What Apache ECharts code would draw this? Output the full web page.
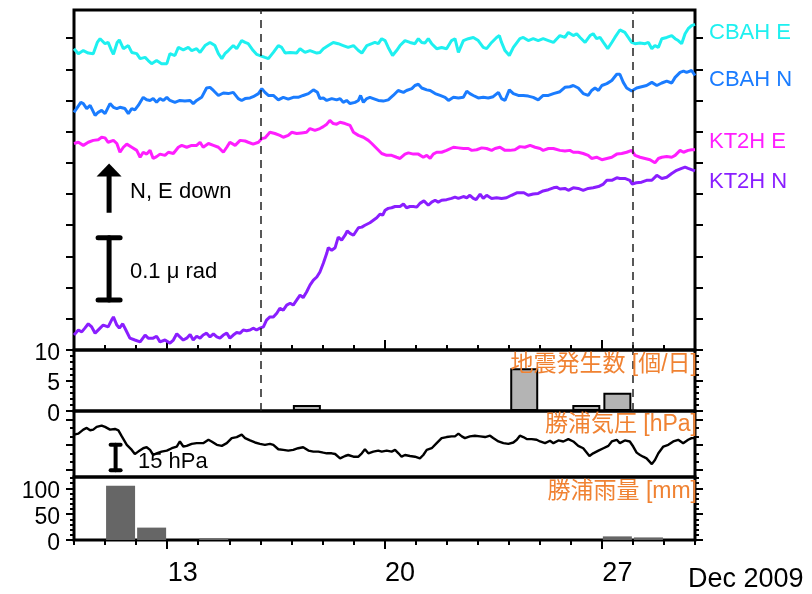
<!DOCTYPE html>
<html>
<head>
<meta charset="utf-8">
<script src="https://cdn.jsdelivr.net/npm/echarts@6/dist/echarts.min.js"></script>
<style>
  html, body { margin: 0; padding: 0; background: #fff; }
  #main { width: 812px; height: 594px; }
</style>
</head>
<body>
<div id="main"></div>
<script>
// tilt in nrad (relative, offset per trace), time in day of Dec 2009
const cbahE = [[10.00,483],[10.14,475],[10.30,480],[10.46,476],[10.62,475],[10.75,493],[10.84,499],[11.00,491],[11.10,493],[11.21,480],[11.27,474],[11.39,493],[11.46,497],[11.59,483],[11.75,488],[11.86,477],[12.02,475],[12.13,467],[12.29,469],[12.39,464],[12.50,459],[12.66,464],[12.82,459],[12.99,459],[13.09,475],[13.25,472],[13.36,485],[13.52,481],[13.68,485],[13.79,480],[13.95,483],[14.06,477],[14.22,488],[14.38,493],[14.54,488],[14.65,475],[14.76,467],[14.86,475],[14.97,480],[15.13,488],[15.24,483],[15.40,496],[15.51,493],[15.61,491],[15.77,480],[15.88,474],[15.99,472],[16.15,469],[16.26,467],[16.42,477],[16.58,488],[16.69,485],[16.80,476],[16.96,477],[17.17,476],[17.28,483],[17.44,477],[17.60,480],[17.82,476],[17.92,477],[18.03,483],[18.19,488],[18.35,493],[18.51,491],[18.67,488],[18.83,485],[19.00,488],[19.16,480],[19.27,476],[19.43,488],[19.59,491],[19.69,493],[19.80,491],[19.91,499],[20.02,496],[20.12,485],[20.26,472],[20.39,480],[20.50,488],[20.66,496],[20.82,493],[20.98,491],[21.09,499],[21.20,493],[21.30,492],[21.41,499],[21.52,491],[21.68,483],[21.84,485],[22.00,483],[22.16,496],[22.27,499],[22.38,477],[22.54,496],[22.70,499],[22.86,501],[23.02,496],[23.18,485],[23.29,483],[23.45,493],[23.61,501],[23.70,504],[23.77,493],[23.88,480],[24.02,472],[24.15,485],[24.36,499],[24.47,501],[24.63,496],[24.79,499],[24.95,496],[25.11,499],[25.28,496],[25.44,493],[25.65,504],[25.81,501],[25.92,509],[26.08,504],[26.19,507],[26.30,501],[26.46,493],[26.62,504],[26.72,507],[26.83,499],[26.94,501],[27.05,493],[27.19,483],[27.32,493],[27.42,501],[27.58,513],[27.74,509],[27.85,501],[27.96,493],[28.07,491],[28.23,492],[28.39,491],[28.50,493],[28.61,483],[28.71,488],[28.82,485],[28.93,499],[29.09,501],[29.25,504],[29.36,499],[29.46,496],[29.57,491],[29.68,507],[29.78,515],[29.89,520],[30.00,522]];
const cbahN = [[10.00,381],[10.22,397],[10.30,395],[10.41,387],[10.52,392],[10.68,376],[10.78,381],[10.89,384],[11.00,379],[11.16,395],[11.27,389],[11.38,387],[11.48,389],[11.64,387],[11.75,379],[11.86,387],[11.96,385],[12.07,392],[12.23,405],[12.34,401],[12.45,400],[12.55,403],[12.66,397],[12.77,403],[12.88,400],[12.99,405],[13.09,400],[13.25,397],[13.41,400],[13.57,399],[13.74,400],[13.84,395],[13.95,400],[14.11,405],[14.27,420],[14.38,421],[14.49,416],[14.65,408],[14.81,412],[14.97,411],[15.13,413],[15.29,403],[15.40,400],[15.51,403],[15.67,404],[15.77,406],[15.94,411],[16.05,419],[16.15,413],[16.26,408],[16.42,408],[16.58,401],[16.74,405],[16.90,402],[17.06,405],[17.22,405],[17.38,408],[17.55,411],[17.71,417],[17.84,413],[17.92,403],[18.03,404],[18.14,400],[18.30,403],[18.46,401],[18.57,403],[18.67,397],[18.78,400],[18.89,395],[19.05,397],[19.16,400],[19.23,408],[19.32,397],[19.43,403],[19.53,405],[19.64,403],[19.80,400],[19.96,399],[20.12,401],[20.28,408],[20.44,416],[20.61,413],[20.71,416],[20.88,419],[20.98,424],[21.09,426],[21.20,420],[21.36,417],[21.47,416],[21.63,411],[21.79,408],[21.95,405],[22.06,400],[22.22,405],[22.38,404],[22.54,405],[22.65,415],[22.75,411],[22.86,408],[23.02,404],[23.18,405],[23.34,404],[23.50,406],[23.67,413],[23.77,403],[23.88,400],[24.02,417],[24.15,411],[24.31,408],[24.47,408],[24.63,407],[24.79,405],[24.95,401],[25.11,408],[25.28,408],[25.44,411],[25.65,414],[25.81,421],[25.97,422],[26.08,424],[26.24,420],[26.40,411],[26.56,408],[26.67,416],[26.78,420],[26.89,416],[27.00,424],[27.16,427],[27.32,432],[27.48,442],[27.58,442],[27.69,429],[27.80,420],[27.96,415],[28.12,420],[28.28,422],[28.44,424],[28.61,429],[28.77,424],[28.93,428],[29.09,431],[29.25,428],[29.36,437],[29.52,445],[29.63,447],[29.73,445],[29.89,448],[30.00,440]];
const kt2hE = [[10.00,331],[10.14,333],[10.30,328],[10.46,333],[10.62,336],[10.78,337],[10.89,341],[11.00,340],[11.10,333],[11.16,330],[11.27,336],[11.38,331],[11.48,317],[11.59,325],[11.70,330],[11.86,325],[12.02,320],[12.13,309],[12.23,317],[12.34,314],[12.45,320],[12.55,307],[12.66,310],[12.77,314],[12.93,312],[13.04,317],[13.20,315],[13.36,325],[13.47,328],[13.63,325],[13.79,328],[13.95,328],[14.06,333],[14.16,325],[14.33,331],[14.49,328],[14.65,325],[14.81,317],[14.92,325],[15.02,333],[15.19,328],[15.35,336],[15.51,335],[15.61,333],[15.77,330],[15.94,333],[16.05,339],[16.15,340],[16.31,349],[16.47,347],[16.63,344],[16.74,341],[16.90,344],[17.01,349],[17.17,347],[17.33,348],[17.49,349],[17.60,355],[17.76,352],[17.92,355],[18.03,358],[18.14,362],[18.24,368],[18.35,363],[18.46,362],[18.57,365],[18.73,363],[18.89,360],[19.00,349],[19.16,344],[19.32,341],[19.48,336],[19.59,331],[19.75,323],[19.91,315],[20.07,312],[20.23,312],[20.39,309],[20.50,307],[20.66,314],[20.77,316],[20.93,314],[21.09,314],[21.25,309],[21.36,312],[21.47,307],[21.57,314],[21.68,317],[21.84,317],[22.00,320],[22.22,325],[22.38,324],[22.54,323],[22.70,323],[22.81,320],[22.97,321],[23.13,324],[23.29,323],[23.45,320],[23.56,323],[23.72,325],[23.88,320],[24.04,320],[24.20,321],[24.36,326],[24.52,325],[24.69,328],[24.85,325],[25.01,323],[25.11,320],[25.28,323],[25.44,323],[25.65,320],[25.81,319],[25.97,320],[26.08,317],[26.24,317],[26.40,315],[26.56,312],[26.67,307],[26.83,309],[27.00,305],[27.16,307],[27.32,309],[27.48,314],[27.64,315],[27.80,317],[27.96,320],[28.07,312],[28.23,309],[28.39,307],[28.55,305],[28.71,300],[28.82,307],[28.93,309],[29.09,310],[29.25,309],[29.36,312],[29.52,320],[29.63,317],[29.78,320],[29.89,321],[30.00,321]];
const kt2hN = [[10.00,24],[10.14,32],[10.25,29],[10.35,35],[10.46,42],[10.57,37],[10.68,27],[10.84,35],[10.94,40],[11.10,37],[11.21,48],[11.27,53],[11.38,40],[11.46,35],[11.57,42],[11.67,32],[11.80,19],[11.96,16],[12.13,13],[12.29,24],[12.39,19],[12.55,19],[12.66,22],[12.77,13],[12.93,16],[13.09,11],[13.20,16],[13.31,26],[13.41,21],[13.52,16],[13.63,19],[13.74,25],[13.84,16],[13.95,22],[14.06,19],[14.16,24],[14.27,27],[14.38,21],[14.49,26],[14.60,21],[14.70,19],[14.81,24],[14.92,27],[15.02,19],[15.13,24],[15.24,28],[15.35,27],[15.45,32],[15.56,31],[15.67,32],[15.77,35],[15.88,32],[15.99,35],[16.10,37],[16.20,48],[16.31,53],[16.42,53],[16.53,59],[16.63,67],[16.74,64],[16.85,72],[16.96,75],[17.06,72],[17.17,80],[17.28,88],[17.38,84],[17.49,93],[17.60,104],[17.71,112],[17.82,117],[17.92,125],[18.03,139],[18.14,155],[18.19,164],[18.30,160],[18.41,164],[18.51,181],[18.62,176],[18.73,184],[18.80,191],[18.89,187],[19.00,184],[19.16,196],[19.27,197],[19.37,200],[19.53,204],[19.64,208],[19.75,212],[19.86,218],[19.94,216],[20.02,224],[20.12,227],[20.23,228],[20.34,230],[20.39,232],[20.50,230],[20.61,234],[20.71,228],[20.82,230],[20.93,230],[21.04,229],[21.14,235],[21.27,239],[21.41,232],[21.52,237],[21.63,240],[21.73,237],[21.84,240],[22.00,241],[22.16,243],[22.27,245],[22.38,243],[22.54,246],[22.65,244],[22.75,248],[22.86,243],[22.95,241],[23.08,250],[23.18,243],[23.29,248],[23.45,243],[23.61,244],[23.77,243],[23.83,241],[23.93,244],[24.09,248],[24.26,252],[24.36,252],[24.49,252],[24.63,248],[24.79,250],[24.95,251],[25.11,255],[25.28,257],[25.44,260],[25.54,261],[25.65,258],[25.81,259],[25.92,256],[26.08,260],[26.24,259],[26.40,256],[26.56,259],[26.72,260],[26.89,262],[27.05,266],[27.16,272],[27.32,272],[27.48,276],[27.58,275],[27.74,275],[27.90,272],[27.98,266],[28.11,268],[28.28,269],[28.44,272],[28.61,272],[28.77,280],[28.93,275],[29.09,277],[29.25,283],[29.41,288],[29.57,291],[29.68,293],[29.78,291],[29.95,288],[30.00,287]];

// 勝浦気圧 hPa
const pressure = [[10.00,1011.0],[10.14,1011.6],[10.30,1014.0],[10.41,1015.0],[10.52,1013.6],[10.62,1014.0],[10.73,1015.6],[10.89,1016.4],[11.00,1015.6],[11.16,1014.0],[11.32,1014.4],[11.43,1013.6],[11.54,1010.0],[11.70,1005.0],[11.86,1002.0],[11.96,999.6],[12.07,1001.0],[12.23,1003.0],[12.34,1003.6],[12.45,1002.0],[12.55,999.0],[12.66,1000.0],[12.82,1001.0],[12.99,1001.6],[13.15,1003.0],[13.31,1004.0],[13.41,1007.0],[13.52,1004.0],[13.63,1004.4],[13.79,1005.6],[13.95,1006.0],[14.16,1006.0],[14.33,1008.0],[14.43,1007.0],[14.60,1005.0],[14.76,1004.4],[14.92,1006.0],[15.08,1009.0],[15.24,1009.6],[15.40,1011.0],[15.51,1009.0],[15.67,1007.6],[15.83,1006.4],[15.99,1005.6],[16.15,1005.0],[16.31,1005.6],[16.42,1005.0],[16.58,1002.4],[16.74,1002.0],[16.90,1001.6],[17.06,1002.0],[17.22,1003.0],[17.38,1003.6],[17.55,1001.6],[17.71,1001.0],[17.87,1001.0],[18.03,1000.4],[18.14,1000.0],[18.30,1000.0],[18.41,999.6],[18.57,997.0],[18.73,998.4],[18.83,999.0],[19.00,998.0],[19.16,998.0],[19.27,1000.0],[19.37,1002.4],[19.48,1000.0],[19.64,1001.0],[19.80,1001.6],[19.91,1001.0],[20.07,1001.6],[20.23,1001.0],[20.34,1002.0],[20.45,1000.0],[20.55,998.0],[20.66,999.0],[20.82,998.4],[20.98,998.0],[21.14,997.0],[21.25,999.0],[21.36,1002.0],[21.52,1003.0],[21.68,1006.0],[21.84,1009.0],[22.00,1009.6],[22.16,1010.0],[22.27,1010.0],[22.38,1011.6],[22.49,1010.0],[22.59,1009.0],[22.75,1010.0],[22.91,1010.4],[23.08,1010.0],[23.24,1009.6],[23.40,1010.4],[23.50,1009.0],[23.67,1007.0],[23.83,1006.0],[23.99,1005.6],[24.15,1006.4],[24.26,1008.0],[24.36,1010.4],[24.47,1009.6],[24.58,1008.4],[24.74,1008.4],[24.90,1008.0],[25.01,1007.0],[25.17,1006.0],[25.33,1007.4],[25.44,1006.0],[25.60,1007.6],[25.76,1007.0],[25.92,1008.4],[26.08,1007.0],[26.24,1004.4],[26.40,1003.0],[26.60,998.4],[26.72,1000.0],[26.89,1001.6],[27.05,1003.0],[27.21,1004.4],[27.32,1007.0],[27.48,1008.0],[27.58,1006.0],[27.74,1007.6],[27.90,1007.0],[28.01,1004.0],[28.12,1000.4],[28.23,999.0],[28.33,998.0],[28.44,997.0],[28.61,993.6],[28.71,996.0],[28.82,1000.0],[28.98,1004.0],[29.14,1005.0],[29.30,1007.0],[29.46,1008.0],[29.62,1006.0],[29.78,1008.0],[29.89,1009.0],[30.00,1009.0]];

// 地震発生数 per day
const quakeDays = [17, 24, 26, 27];
const quakeCounts = [1, 7, 1, 3];

// 勝浦雨量 mm per day
const rainDays = [11, 12, 14, 27, 28];
const rainMm = [105, 24, 3, 7, 5];

const dashDays = [16, 28];
const tickDays = [10,11,12,13,14,15,16,17,18,19,20,21,22,23,24,25,26,27,28,29,30];
const majorDays = [13, 20, 27];
const dayLabels = ['13', '20', '27'];
const tiltTicks = [0,50,100,150,200,250,300,350,400,450,500];
const quakeMajor = [0, 5, 10];
const quakeMinor = [1,2,3,4,6,7,8,9];
const presMajor = [990, 1005, 1020];
const presMinor = [995, 1000, 1010, 1015, 1025];
const rainMajor = [0, 50, 100];
const rainMinor = [10,20,30,40,60,70,80,90,110,120];

const FONT = "'Liberation Sans', 'Noto Sans CJK JP', sans-serif";
const ORANGE = '#f08232';

function tickAxis(grid, pos, min, max, ticks, len, labels) {
  return {
    type: 'value', gridIndex: grid, position: pos, min: min, max: max, offset: 0,
    axisLine: { show: false },
    splitLine: { show: false },
    axisTick: { show: true, length: len, customValues: ticks, lineStyle: { color: '#000', width: 2 } },
    axisLabel: labels ? labels : { show: false }
  };
}

// left value labels sit a little below their ticks, as in the source plot
const yLab = (vals) => ({
  show: true, customValues: vals, margin: 14,
  formatter: v => '{n|' + v + '}',
  rich: { n: { fontSize: 23, fontFamily: FONT, color: '#000', padding: [7, 0, 0, 0] } }
});

const grids = [
  { left: 74, right: 117, top: 10, height: 340 },
  { left: 74, right: 117, top: 350, height: 61 },
  { left: 74, right: 117, top: 411, height: 66 },
  { left: 74, right: 117, top: 477, height: 63 }
].map(g => Object.assign(g, { show: true, borderColor: '#000', borderWidth: 3, backgroundColor: 'transparent' }));

const xAxes = [
  tickAxis(0, 'top', 10, 30, tickDays, 5),
  tickAxis(0, 'top', 10, 30, majorDays, 10),
  { type: 'value', gridIndex: 1, min: 10, max: 30, show: false },
  { type: 'value', gridIndex: 2, min: 10, max: 30, show: false },
  tickAxis(3, 'bottom', 10, 30, tickDays, 5),
  tickAxis(3, 'bottom', 10, 30, majorDays, 9, {
    show: true,
    customValues: majorDays.map(d => d + 0.5),
    formatter: v => dayLabels[majorDays.indexOf(Math.round(v - 0.5))] || '',
    fontSize: 27, fontFamily: FONT, color: '#000', margin: 20
  })
];

const yAxes = [
  tickAxis(0, 'left', 0, 545, tiltTicks, 8),
  tickAxis(0, 'right', 0, 545, tiltTicks, 8),
  tickAxis(1, 'left', 0, 10, quakeMajor, 8, yLab(quakeMajor)),
  tickAxis(1, 'left', 0, 10, quakeMinor, 4),
  tickAxis(1, 'right', 0, 10, quakeMajor, 8),
  tickAxis(1, 'right', 0, 10, quakeMinor, 4),
  tickAxis(2, 'left', 986, 1025, presMajor, 8),
  tickAxis(2, 'left', 986, 1025, presMinor, 4),
  tickAxis(2, 'right', 986, 1025, presMajor, 8),
  tickAxis(2, 'right', 986, 1025, presMinor, 4),
  tickAxis(3, 'left', 0, 122, rainMajor, 8, yLab(rainMajor)),
  tickAxis(3, 'left', 0, 122, rainMinor, 4),
  tickAxis(3, 'right', 0, 122, rainMajor, 8),
  tickAxis(3, 'right', 0, 122, rainMinor, 4)
];

const dashLine = {
  silent: true, symbol: ['none', 'none'], label: { show: false },
  lineStyle: { color: '#222', type: [8, 6], width: 1.5 },
  data: dashDays.map(d => ({ xAxis: d }))
};

function tiltSeries(name, data, color, withDash) {
  const s = {
    name: name, type: 'line', xAxisIndex: 0, yAxisIndex: 0, data: data,
    showSymbol: false, symbol: 'none', lineStyle: { color: color, width: 3 },
    itemStyle: { color: color }, z: 3
  };
  if (withDash) s.markLine = dashLine;
  return s;
}

const option = {
  animation: false,
  backgroundColor: '#fff',
  grid: grids,
  xAxis: xAxes,
  yAxis: yAxes,
  series: [
    tiltSeries('CBAH E', cbahE, '#1ef0f0', true),
    tiltSeries('CBAH N', cbahN, '#1a7cff', false),
    tiltSeries('KT2H E', kt2hE, '#ff1eff', false),
    tiltSeries('KT2H N', kt2hN, '#8a1eff', false),
    {
      name: '地震発生数', type: 'bar', xAxisIndex: 2, yAxisIndex: 2,
      data: quakeDays.map((d, i) => [d + 0.5, quakeCounts[i]]),
      barWidth: 28,
      itemStyle: { color: '#b4b4b4', borderColor: '#000', borderWidth: 2 },
      markLine: dashLine
    },
    {
      name: '勝浦気圧', type: 'line', xAxisIndex: 3, yAxisIndex: 6, data: pressure,
      showSymbol: false, symbol: 'none', lineStyle: { color: '#000', width: 2.4 }
    },
    {
      name: '勝浦雨量', type: 'bar', xAxisIndex: 4, yAxisIndex: 10,
      data: rainDays.map((d, i) => [d + 0.5, rainMm[i]]),
      barWidth: 29,
      itemStyle: { color: '#666666' }
    }
  ]
};

const chart = echarts.init(document.getElementById('main'), null, { renderer: 'canvas' });
chart.setOption(option);

// annotations: direction arrow and scale bars placed through the axes
const px = (si, x, y) => chart.convertToPixel({ seriesIndex: si }, [x, y]);
const arrowTop = px(0, 11.13, 299);
const arrowBot = px(0, 11.13, 220);
const barTop = px(0, 11.13, 180);
const barBot = px(0, 11.13, 80);
const hpaTop = px(5, 11.34, 1005);
const hpaBot = px(5, 11.34, 990);

const txt = (text, x, y, size, color, align) => ({
  type: 'text', x: x, y: y, silent: true, z: 100,
  style: { text: text, font: size + 'px ' + FONT, fill: color, textAlign: align || 'left', textVerticalAlign: 'middle' }
});
const seg = (x1, y1, x2, y2, w) => ({
  type: 'line', silent: true, z: 100,
  shape: { x1: x1, y1: y1, x2: x2, y2: y2 },
  style: { stroke: '#000', lineWidth: w, lineCap: 'round' }
});

const ax = arrowTop[0], ay = arrowTop[1];
chart.setOption({
  graphic: [
    { type: 'polygon', silent: true, z: 100, shape: { points: [[ax, ay], [ax - 12.5, ay + 13], [ax + 12.5, ay + 13]] }, style: { fill: '#000' } },
    { type: 'rect', silent: true, z: 100, shape: { x: ax - 2.5, y: ay + 12, width: 5, height: arrowBot[1] - ay - 12 }, style: { fill: '#000' } },
    seg(barTop[0], barTop[1], barBot[0], barBot[1], 5),
    seg(barTop[0] - 11, barTop[1], barTop[0] + 11, barTop[1], 5),
    seg(barBot[0] - 11, barBot[1], barBot[0] + 11, barBot[1], 5),
    seg(hpaTop[0], hpaTop[1], hpaBot[0], hpaBot[1], 4),
    seg(hpaTop[0] - 5, hpaTop[1], hpaTop[0] + 5, hpaTop[1], 4),
    seg(hpaBot[0] - 5, hpaBot[1], hpaBot[0] + 5, hpaBot[1], 4),
    txt('N, E down', 130, 192, 22, '#000'),
    txt('0.1 \u03bc rad', 130, 272, 22, '#000'),
    txt('15 hPa', 138, 462, 22, '#000'),
    txt('CBAH E', 709, 33, 22, '#1ef0f0'),
    txt('CBAH N', 709, 80, 22, '#1a7cff'),
    txt('KT2H E', 709, 142, 22, '#ff1eff'),
    txt('KT2H N', 709, 182, 22, '#8a1eff'),
    txt('地震発生数 [個/日]', 697, 365, 23, ORANGE, 'right'),
    txt('勝浦気圧 [hPa]', 697, 425, 23, ORANGE, 'right'),
    txt('勝浦雨量 [mm]', 697, 492, 23, ORANGE, 'right'),
    txt('Dec 2009', 688, 580, 27, '#000')
  ]
});
</script>
</body>
</html>
